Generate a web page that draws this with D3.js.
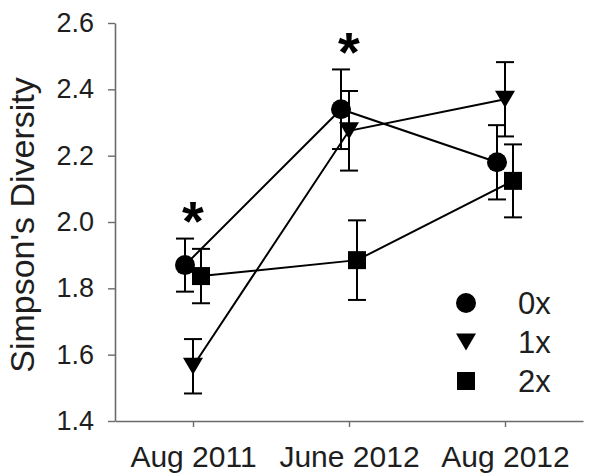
<!DOCTYPE html>
<html>
<head>
<meta charset="utf-8">
<script src="https://cdn.jsdelivr.net/npm/d3@7"></script>
<style>
  body { margin: 0; background: #fff; }
  svg { display: block; font-family: "Liberation Sans", Arial, sans-serif; }
</style>
</head>
<body>
<div id="chart"></div>
<script>
const DATES = ["Aug 2011", "June 2012", "Aug 2012"];
const SERIES = ["0x", "1x", "2x"];

const mean0x = [1.87, 2.34, 2.18];
const err0x = [0.08, 0.12, 0.112];
const mean1x = [1.565, 2.275, 2.37];
const err1x = [0.082, 0.12, 0.112];
const mean2x = [1.837, 1.885, 2.124];
const err2x = [0.082, 0.12, 0.11];

const Y_TICKS = [1.4, 1.6, 1.8, 2.0, 2.2, 2.4, 2.6];

// significance marks: date + value where the star sits
const STAR_DATES = ["Aug 2011", "June 2012"];
const STAR_VALUES = [2.04, 2.55];

const width = 602, height = 475;
const plot = { left: 115, right: 583, top: 23, bottom: 421 };

const svg = d3.select("#chart").append("svg")
    .attr("width", width)
    .attr("height", height)
    .style("background", "#fff");

const x = d3.scalePoint().domain(DATES).range([plot.left, plot.right]).padding(0.5);
const y = d3.scaleLinear().domain([1.4, 2.6]).range([plot.bottom, plot.top]);

const axisColor = "#6b6b6b";
const textColor = "#1e1e1e";

// axes
const gy = svg.append("g")
    .attr("transform", `translate(${plot.left},0)`)
    .call(d3.axisLeft(y).tickValues(Y_TICKS).tickFormat(d3.format(".1f"))
        .tickSize(7).tickPadding(14).tickSizeOuter(0));
gy.select(".domain").attr("stroke", axisColor).attr("stroke-width", 1.6);
gy.selectAll(".tick line").attr("stroke", axisColor).attr("stroke-width", 1.4);
gy.selectAll("text").style("font-size", "27px").attr("fill", textColor);

const gx = svg.append("g")
    .attr("transform", `translate(0,${plot.bottom})`)
    .call(d3.axisBottom(x).tickSize(6).tickPadding(19).tickSizeOuter(0));
gx.select(".domain").attr("stroke", axisColor).attr("stroke-width", 1.6);
gx.selectAll(".tick line").attr("stroke", axisColor).attr("stroke-width", 1.4);
gx.selectAll("text").style("font-size", "30px").attr("fill", textColor);

svg.append("text")
    .attr("transform", `translate(34,225) rotate(-90)`)
    .attr("text-anchor", "middle")
    .style("font-size", "34px")
    .attr("fill", textColor)
    .text("Simpson's Diversity");

// series
const dodge = { "0x": -8, "1x": 0, "2x": 8 };
const symbols = {
    "0x": d3.symbol().type(d3.symbolCircle).size(Math.PI * 10 * 10),
    "1x": null,
    "2x": d3.symbol().type(d3.symbolSquare).size(18 * 18)
};
const triPath = (w, h) => `M${-w / 2},${-h / 2}L${w / 2},${-h / 2}L0,${h / 2}Z`;

const seriesData = [
    { key: "0x", mean: mean0x, err: err0x },
    { key: "1x", mean: mean1x, err: err1x },
    { key: "2x", mean: mean2x, err: err2x }
].map(s => ({
    key: s.key,
    pts: DATES.map((d, i) => ({ date: d, mean: s.mean[i], err: s.err[i] }))
}));

const px = (s, d) => x(d.date) + dodge[s.key];
const capW = 9;

seriesData.forEach(s => {
    const g = svg.append("g");
    // error bars
    s.pts.forEach(d => {
        const cx = px(s, d);
        g.append("line")
            .attr("x1", cx).attr("x2", cx)
            .attr("y1", y(d.mean + d.err)).attr("y2", y(d.mean - d.err))
            .attr("stroke", "#000").attr("stroke-width", 2);
        [d.mean + d.err, d.mean - d.err].forEach(v => {
            g.append("line")
                .attr("x1", cx - capW).attr("x2", cx + capW)
                .attr("y1", y(v)).attr("y2", y(v))
                .attr("stroke", "#000").attr("stroke-width", 2);
        });
    });
});

seriesData.forEach(s => {
    svg.append("path")
        .datum(s.pts)
        .attr("fill", "none")
        .attr("stroke", "#000")
        .attr("stroke-width", 2)
        .attr("d", d3.line().x(d => px(s, d)).y(d => y(d.mean)));
});

const drawMarker = (sel, key) => {
    if (key === "1x") return sel.append("path").attr("d", triPath(20, 17)).attr("fill", "#000");
    return sel.append("path").attr("d", symbols[key]()).attr("fill", "#000");
};

seriesData.forEach(s => {
    s.pts.forEach(d => {
        drawMarker(svg.append("g").attr("transform", `translate(${px(s, d)},${y(d.mean)})`), s.key);
    });
});

// stars
STAR_DATES.forEach((d, i) => {
    svg.append("text")
        .attr("x", x(d))
        .attr("y", y(STAR_VALUES[i]) + 56 * 0.555)
        .attr("text-anchor", "middle")
        .style("font-size", "56px")
        .style("font-weight", "bold")
        .attr("fill", "#000")
        .text("*");
});

// legend
const legend = svg.append("g").attr("transform", "translate(466,303)");
SERIES.forEach((k, i) => {
    const row = legend.append("g").attr("transform", `translate(0,${i * 39})`);
    drawMarker(row, k);
    row.append("text")
        .attr("x", 52)
        .attr("dy", "0.36em")
        .style("font-size", "31px")
        .attr("fill", textColor)
        .text(k);
});
</script>
</body>
</html>
